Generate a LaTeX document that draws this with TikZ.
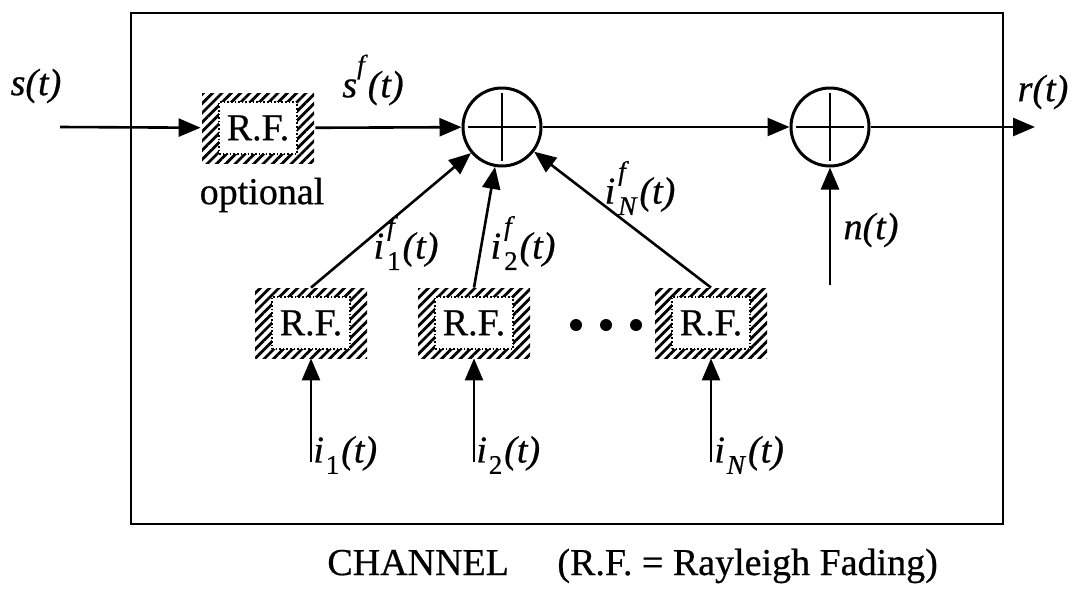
\documentclass[tikz,border=0pt]{standalone}
\usepackage{fontspec}
\setmainfont{Liberation Serif}[FakeBold=0.6]
\usetikzlibrary{arrows.meta,patterns.meta}
\newcommand\smallsz{\fontsize{13.5}{14}\selectfont}
\newcommand\lblsf[2]{\textit{#1}\kern0.08em\rlap{\raisebox{0.62em}{\smallsz\textit{f}}}\raisebox{-0.3em}{\smallsz #2}\kern0.05em\textit{(t)}}
\newcommand\lbls[2]{\textit{#1}\kern0.05em\raisebox{-0.3em}{\smallsz #2}\kern0.05em\textit{(t)}}
\begin{document}
\begin{tikzpicture}[x=0.5pt,y=-0.5pt,
  every node/.style={font=\fontsize{19}{22}\selectfont},
  ar/.style={line width=1.3pt,-{Triangle[length=11pt,width=9pt]}},
  rfouter/.style={rectangle,minimum width=56pt,minimum height=35pt,inner sep=0pt,
    pattern={Lines[angle=45,distance=3.3pt,line width=1.4pt]}},
  rfinner/.style={rectangle,minimum width=39pt,minimum height=26pt,inner sep=0pt,
    fill=white,draw,densely dotted,line width=0.8pt},
  sumnode/.style={circle,draw,line width=1.5pt,minimum size=39pt,inner sep=0pt},
  cross/.style={line width=1.3pt},
  lbl/.style={inner sep=0pt}
]
\useasboundingbox (0,0) rectangle (1079,595);
% channel frame
\node[draw,line width=1pt,minimum width=436pt,minimum height=255.5pt,inner sep=0pt] (chan) at (567,268.5) {};
% RF boxes
\node[rfouter] (rf0) at (258,128) {};
\node[rfinner] (rf0i) at (rf0.center) {R.F.};
\node[rfouter] (rf1) at (311,323) {};
\node[rfinner] (rf1i) at (rf1.center) {R.F.};
\node[rfouter] (rf2) at (474,323) {};
\node[rfinner] (rf2i) at (rf2.center) {R.F.};
\node[rfouter] (rf3) at (711,323) {};
\node[rfinner] (rf3i) at (rf3.center) {R.F.};
% summers
\node[sumnode] (c1) at (502,127) {};
\draw[cross] ([xshift=-17pt]c1.center) -- ([xshift=17pt]c1.center);
\draw[cross] ([yshift=17pt]c1.center) -- ([yshift=-17pt]c1.center);
\node[sumnode] (c2) at (830,127) {};
\draw[cross] ([xshift=-17pt]c2.center) -- ([xshift=17pt]c2.center);
\draw[cross] ([yshift=17pt]c2.center) -- ([yshift=-17pt]c2.center);
% coordinates
\coordinate (in) at (60,127);
\coordinate (out) at (1035,127);
\coordinate (nin) at (830,285);
\coordinate (i1) at (311,462);
\coordinate (i2) at (474,462);
\coordinate (i3) at (711,462);
% connectors
\draw[ar] (in) -- (rf0);
\draw[ar] (rf0) -- (c1);
\draw[ar] (c1) -- (c2);
\draw[ar] (c2) -- (out);
\draw[ar] (nin) -- (c2);
\draw[ar] (i1) -- (rf1);
\draw[ar] (i2) -- (rf2);
\draw[ar] (i3) -- (rf3);
\draw[ar] (rf1.north) -- (c1);
\draw[ar] (rf2.north) -- (c1);
\draw[ar] (rf3.north) -- (c1);
% dots
\fill (576,325) circle (6);
\fill (606,325) circle (6);
\fill (636,325) circle (6);
% labels
\node[lbl] (ls) at (36,86) {\textit{s(t)}};
\node[lbl] (lsf) at (373,80) {\textit{s}\raisebox{0.62em}{\smallsz\textit{f}}\textit{(t)}};
\node[lbl] (lr) at (1043,92) {\textit{r(t)}};
\node[lbl] (lopt) at (262,195) {optional};
\node[lbl] (ln) at (871,230) {\textit{n(t)}};
\node[lbl] (li1f) at (406,243) {\lblsf{i}{1}};
\node[lbl] (li2f) at (523,243) {\lblsf{i}{2}};
\node[lbl] (liNf) at (640,188) {\lblsf{i}{\textit{N}}};
\node[lbl,anchor=west] (li1) at (313,455) {\lbls{i}{1}};
\node[lbl,anchor=west] (li2) at (476,455) {\lbls{i}{2}};
\node[lbl,anchor=west] (liN) at (714,455) {\lbls{i}{\textit{N}}};
\node[lbl,anchor=base west] (cap1) at (327,575) {CHANNEL};
\node[lbl,anchor=base west] (cap2) at (557,575) {(R.F. = Rayleigh Fading)};
\end{tikzpicture}
\end{document}
